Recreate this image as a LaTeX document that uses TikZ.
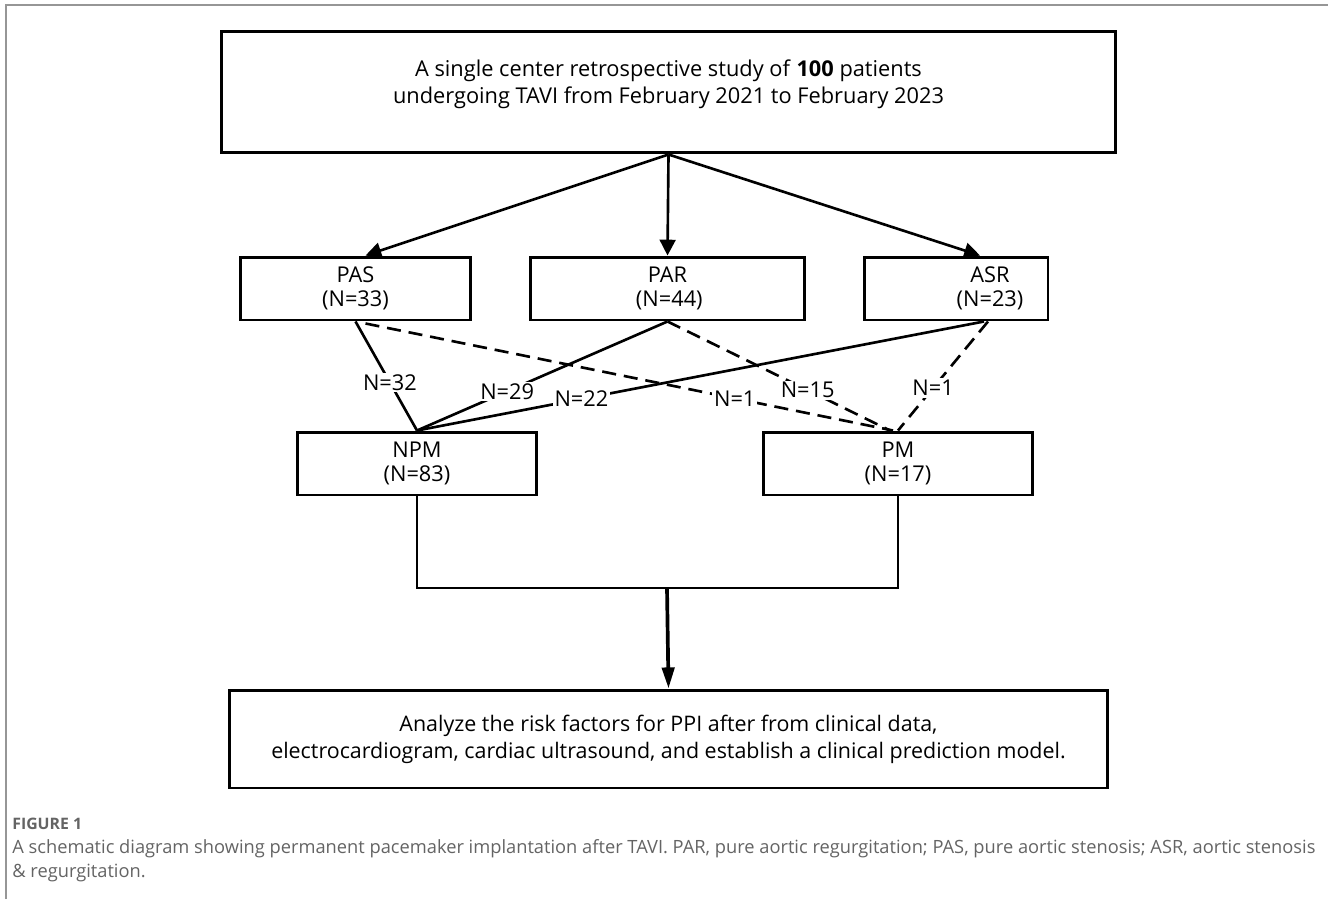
\documentclass[tikz,border=0pt]{standalone}
\usepackage{fontspec}
\setmainfont{Open Sans}
\usetikzlibrary{arrows.meta,positioning,calc}
\definecolor{capGray}{RGB}{100,100,100}
\definecolor{frameGray}{RGB}{150,150,150}

\begin{document}
\begin{tikzpicture}[x=0.02cm,y=-0.02cm,font=\fontsize{12.4}{13.8}\selectfont,
        box/.style={draw,line width=1.7pt,inner sep=0pt,align=center},
        ar/.style={-{Triangle[length=9pt,width=9pt]},line width=1.5pt},
        ln/.style={line width=1.5pt},
        dsh/.style={ln,dash pattern=on 8pt off 4.5pt},
        lab/.style={fill=white,inner sep=1pt,font=\fontsize{12.4}{14}\selectfont}]
        \useasboundingbox (0,0) rectangle (1328,899);
        % page frame
        \draw[frameGray,line width=0.6pt] (6,899) -- (6,5) -- (1328,5);
        % boxes
        \node[box,minimum width=17.9cm,minimum height=2.44cm,font=\fontsize{12.4}{15.5}\selectfont] (study) at (668.5,92)
          {A single center retrospective study of \textbf{100} patients\\undergoing TAVI from February 2021 to February 2023\rule[-4mm]{0pt}{4mm}};
        \node[box,minimum width=4.62cm,minimum height=1.26cm] (pas) at (355.5,288.5) {PAS\\(N=33)};
        \node[box,minimum width=5.5cm,minimum height=1.26cm] (par) at (667.5,288.5) {PAR\\\,(N=44)};
        \node[box,minimum width=3.68cm,minimum height=1.26cm,
              label={[align=center,xshift=0.68cm]center:ASR\\(N=23)}] (asr) at (956,288.5) {};
        \node[box,minimum width=4.8cm,minimum height=1.26cm] (npm) at (417,463.5) {NPM\\(N=83)};
        \node[box,minimum width=5.4cm,minimum height=1.26cm] (pm) at (898,463.5) {PM\\(N=17)};
        \node[box,minimum width=17.58cm,minimum height=1.96cm,font=\fontsize{12.2}{15.5}\selectfont] (analyze) at (668.5,739)
          {Analyze the risk factors for PPI after from clinical data,\\electrocardiogram, cardiac ultrasound, and establish a clinical prediction model.};
        % study -> groups
        \draw[ar] (study.south) -- ([xshift=0.2cm]pas.north);
        \draw[ar] (study.south) -- (par.north);
        \draw[ar] (study.south) -- ([xshift=0.48cm]asr.north);
        % groups -> outcome
        \draw[ln] (pas.south) -- node[lab,pos=0.56] {N=32} (npm.north);
        \draw[dsh] ($(pas.south)+(10,2)$) -- node[lab,pos=0.7] {N=1} ([xshift=-0.1cm]pm.north);
        \draw[ln] (par.south) -- node[lab,pos=0.64] {N=29} (npm.north);
        \draw[dsh] (par.south) -- node[lab,pos=0.63] {N=15} ([xshift=-0.16cm]pm.north);
        \draw[ln] ($(asr.south)+(28,0)$) -- node[lab,pos=0.71] {N=22} (npm.north);
        \draw[dsh] ($(asr.south)+(32,0)$) -- node[lab,pos=0.61] {N=1} (pm.north);
        % merge
        \coordinate (merge) at (667,588);
        \draw[line width=1.5pt] (npm.south) |- (merge) -| (pm.south);
        \draw[-{Triangle[length=12pt,width=7pt]},line width=2.1pt] (merge) -- (analyze.north);
        % caption
        \node[anchor=west,inner sep=0pt,text=capGray,font=\fontsize{9}{11}\selectfont\bfseries] (fig) at (12,824) {FIGURE 1};
        \node[anchor=north west,inner sep=0pt,text=capGray,align=left,font=\fontsize{10.4}{13.6}\selectfont] (cap) at (12,839)
          {A schematic diagram showing permanent pacemaker implantation after TAVI. PAR, pure aortic regurgitation; PAS, pure aortic stenosis; ASR, aortic stenosis\\\& regurgitation.};
      \end{tikzpicture}
\end{document}
